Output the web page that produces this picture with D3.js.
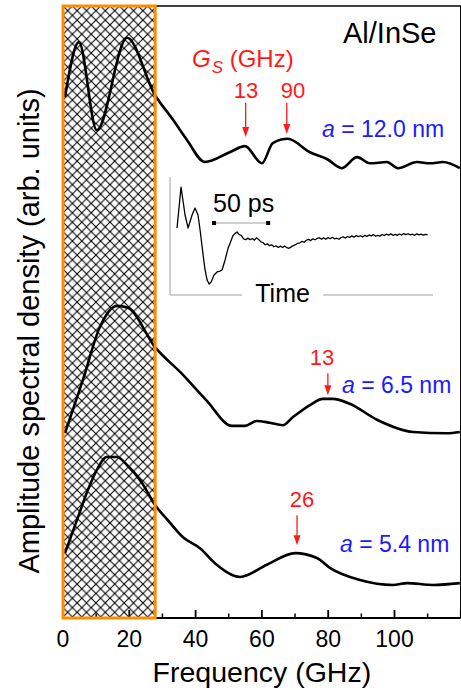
<!DOCTYPE html>
<html>
<head>
<meta charset="utf-8">
<script src="https://cdn.jsdelivr.net/npm/d3@7"></script>
<style>
  body { margin: 0; background: #ffffff; }
  svg text { font-family: "Liberation Sans", Arial, Helvetica, sans-serif; }
</style>
</head>
<body>
<div id="chart"></div>
<script>
// spectra: frequency (GHz) and stacked amplitude (arb. units)
const freq12 = [0.6, 4.8, 10.2, 19.3, 27.7, 33.2, 37.4, 42.8, 50.3, 54.9, 60.0, 63.3, 67.8, 74.5, 79.6, 84.1, 88.7, 92.6, 97.7, 101, 106.8, 110.7, 114.6, 119.7];
const amp12 = [85.1, 94.1, 79.7, 94.8, 85.5, 81.4, 78.1, 74.5, 76.1, 77.1, 74.3, 77.6, 78.3, 76.1, 75.0, 73.5, 75.3, 74.3, 74.5, 73.5, 74.5, 74.3, 74.5, 73.5];

const freq65 = [0.6, 6.0, 11.1, 16.3, 19.6, 27.7, 35.7, 43.2, 51.0, 54.9, 58.5, 62.4, 66.3, 69.3, 74.5, 78.4, 81.4, 86.5, 94.7, 105.6, 115.8, 119.7];
const amp65 = [30.2, 38.9, 47.5, 51.0, 50.7, 44.3, 40.0, 35.6, 31.4, 31.4, 32.2, 31.9, 31.5, 32.8, 34.8, 35.8, 35.8, 35.0, 32.4, 30.4, 30.2, 30.4];

const freq54 = [0.6, 4.2, 7.5, 10.2, 13.2, 16.3, 19.3, 23.8, 27.7, 31.6, 36.2, 41.3, 46.4, 53.4, 61.5, 70.0, 76.6, 80.5, 89.6, 99.5, 103.8, 111.6, 119.7];
const amp54 = [10.6, 16.0, 20.9, 24.2, 26.3, 26.3, 25.0, 22.1, 18.5, 16.0, 13.2, 11.4, 8.7, 6.7, 8.7, 10.6, 9.8, 8.2, 6.2, 5.4, 5.7, 5.4, 5.7];

const seriesNames = ["a = 12.0 nm", "a = 6.5 nm", "a = 5.4 nm"];

// inset time trace (ps, arb.)
const insetTime = [6.5, 10.2, 13.9, 16.7, 20.4, 23.1, 25.9, 27.8, 30.6, 32.4, 34.3, 36.1, 38.0, 40.7, 43.5, 46.3, 48.1, 50.9, 53.7, 55.6, 58.0,
    60, 62, 64, 66, 68, 70, 72, 74, 76, 78, 80, 82, 84, 86, 88, 90, 92, 94, 96, 98, 100, 102, 104, 106, 108, 110, 112, 114, 116, 118,
    120, 122, 124, 126, 128, 130, 132, 134, 136, 138, 140, 142, 144, 146, 148, 150, 152, 154, 156, 158, 160, 162, 164, 166, 168, 170,
    172, 174, 176, 178, 180, 182, 184, 186, 188, 190, 192, 194, 196, 198, 200, 202, 204, 206, 208, 210, 212, 214, 216, 218, 220, 222,
    224, 226, 228, 230, 232, 234, 236, 238];
const insetSignal = [56.8, 91.5, 67.8, 56.8, 67.8, 73.7, 67.8, 55.1, 33.9, 21.2, 12.7, 9.3, 11.0, 16.9, 19.5, 20.3, 21.2, 29.7, 39.8, 44.1, 50.0,
    52.0, 53.4, 51.2, 50.4, 47.6, 46.9, 48.2, 46.8, 47.9, 46.5, 48.6, 46.9, 45.1, 44.3, 42.6, 43.4, 41.8, 42.5, 40.9, 41.6, 40.3, 41.4, 40.2, 41.5, 40.1, 39.6, 40.8, 41.9, 42.6, 43.8,
    44.2, 45.5, 44.7, 46.4, 47.2, 46.1, 47.6, 46.8, 47.9, 48.5, 47.3, 48.4, 47.2, 48.6, 47.7, 48.9, 47.6, 48.1, 47.3, 48.7, 49.2, 48.3, 49.6, 48.8, 50.1, 49.0,
    50.3, 49.4, 50.2, 49.1, 50.5, 49.7, 50.9, 50.0, 51.2, 49.8, 50.6, 49.9, 51.3, 50.4, 51.6, 50.7, 51.8, 50.6, 51.4, 50.5, 51.7, 50.8, 52.0, 51.1, 51.9, 50.9,
    51.5, 50.6, 51.8, 51.0, 51.6, 50.7, 51.3, 50.9];

// shaded (hatched) low-frequency band, GHz
const bandRange = [0, 27.8];

// arrows: label, frequency, arrow tip / top, label baseline (arb. units)
const peakLabels = ["13", "90", "13", "26"];
const peakFreq = [55.1, 67.5, 79.9, 70.6];
const peakTip = [78.6, 79.1, 36.4, 11.9];
const peakTop = [84.2, 84.2, 40.0, 16.8];
const peakText = [85.0, 85.0, 41.3, 18.1];
const peakTextFreq = [55.2, 69.4, 78.1, 72.1];

const xTicks = [0, 20, 40, 60, 80, 100];

class SpectraView {
    constructor(container) {
        this.container = container;
        this.width = 461;
        this.height = 690;
        this.red = "#ff1a1a";
        this.blue = "#1a1aff";
        this.orange = "#ff8c00";
    }

    render() {
        const svg = d3.select("#" + this.container)
            .append("svg")
            .attr("width", this.width)
            .attr("height", this.height)

        const x = d3.scaleLinear().domain([0, 120]).range([63, 460.8]);
        const y = d3.scaleLinear().domain([0, 100]).range([618, 6]);
        this.x = x;
        this.y = y;

        //hatch pattern for the band
        const s = 9.4;
        const pattern = svg.append("defs")
            .append("pattern")
            .attr("id", "hatch")
            .attr("patternUnits", "userSpaceOnUse")
            .attr("x", 63)
            .attr("y", 6)
            .attr("width", s)
            .attr("height", s)
        pattern.append("rect")
            .attr("width", s)
            .attr("height", s)
            .style("fill", "#ffffff")
        pattern.append("path")
            .attr("d", `M0,0L${s},${s}M${s},0L0,${s}`)
            .style("stroke", "#000000")
            .style("stroke-width", 1.1)
            .style("fill", "none")

        svg.append("rect")
            .attr("x", x(bandRange[0]))
            .attr("y", y(100))
            .attr("width", x(bandRange[1]) - x(bandRange[0]))
            .attr("height", y(0) - y(100))
            .style("fill", "url(#hatch)")

        //frame: top and right
        svg.append("path")
            .attr("d", `M${x(bandRange[1])},${y(100)}H${x(120)}V${y(0)}`)
            .style("fill", "none")
            .style("stroke", "#000000")
            .style("stroke-width", 1.5)

        this.renderAxis(svg);
        this.renderCurves(svg);

        //band outline on top
        svg.append("rect")
            .attr("x", x(bandRange[0]))
            .attr("y", y(100))
            .attr("width", x(bandRange[1]) - x(bandRange[0]))
            .attr("height", y(0) - y(100))
            .style("fill", "none")
            .style("stroke", this.orange)
            .style("stroke-width", 3)

        this.renderInset(svg);
        this.renderLabels(svg);
    }

    renderAxis(svg) {
        const x = this.x, y = this.y;
        const axis = svg.append("g")
            .attr("transform", `translate(0,${y(0)})`)

        axis.append("line")
            .attr("x1", x(0))
            .attr("x2", x(120))
            .style("stroke", "#000000")
            .style("stroke-width", 2)

        axis.selectAll(".major")
            .data(d3.range(0, 121, 20))
            .join("line")
            .attr("class", "major")
            .attr("x1", d => x(d))
            .attr("x2", d => x(d))
            .attr("y1", 0)
            .attr("y2", -8)
            .style("stroke", "#000000")
            .style("stroke-width", 1.8)

        axis.selectAll(".minor")
            .data(d3.range(10, 120, 20))
            .join("line")
            .attr("class", "minor")
            .attr("x1", d => x(d))
            .attr("x2", d => x(d))
            .attr("y1", 0)
            .attr("y2", -4.5)
            .style("stroke", "#000000")
            .style("stroke-width", 1.5)

        axis.selectAll(".tick-label")
            .data(xTicks)
            .join("text")
            .attr("class", "tick-label")
            .attr("x", d => x(d))
            .attr("y", 29)
            .attr("text-anchor", "middle")
            .style("font-size", "23px")
            .style("fill", "#000000")
            .text(d => d)

        svg.append("text")
            .attr("x", (x(0) + x(120)) / 2)
            .attr("y", 682)
            .attr("text-anchor", "middle")
            .style("font-size", "28.5px")
            .text("Frequency (GHz)")

        svg.append("text")
            .attr("transform", `translate(39,${331}) rotate(-90)`)
            .attr("text-anchor", "middle")
            .style("font-size", "29px")
            .text("Amplitude spectral density (arb. units)")
    }

    renderCurves(svg) {
        const x = this.x, y = this.y;
        const line = d3.line()
            .x(d => x(d[0]))
            .y(d => y(d[1]))
            .curve(d3.curveMonotoneX)

        const curves = [
            d3.zip(freq12, amp12),
            d3.zip(freq65, amp65),
            d3.zip(freq54, amp54)
        ];

        svg.append("g")
            .selectAll("path")
            .data(curves)
            .join("path")
            .attr("d", line)
            .style("fill", "none")
            .style("stroke", "#000000")
            .style("stroke-width", 2.6)
            .style("stroke-linejoin", "round")
    }

    renderInset(svg) {
        // inset box: time trace
        const tx = d3.scaleLinear().domain([0, 243]).range([170, 433]);
        const ty = d3.scaleLinear().domain([0, 100]).range([295, 177]);
        const grey = "#a0a0a0";
        const inset = svg.append("g")

        inset.append("path")
            .attr("d", `M${tx(0)},${ty(100)}V${ty(0)}H${tx(66.5)}M${tx(141.5)},${ty(0)}H${tx(243)}`)
            .style("fill", "none")
            .style("stroke", grey)
            .style("stroke-width", 1)

        inset.append("text")
            .attr("x", tx(104))
            .attr("y", 302)
            .attr("text-anchor", "middle")
            .style("font-size", "25px")
            .text("Time")

        inset.append("path")
            .attr("d", d3.line().x(d => tx(d[0])).y(d => ty(d[1]))(d3.zip(insetTime, insetSignal)))
            .style("fill", "none")
            .style("stroke", "#000000")
            .style("stroke-width", 1.3)
            .style("stroke-linejoin", "round")

        //50 ps scale bar
        const barStart = 40.7, barLen = 50;
        inset.append("line")
            .attr("x1", tx(barStart))
            .attr("x2", tx(barStart + barLen))
            .attr("y1", 223)
            .attr("y2", 223)
            .style("stroke", grey)
            .style("stroke-width", 1)
        inset.selectAll(".bar-end")
            .data([barStart, barStart + barLen])
            .join("rect")
            .attr("class", "bar-end")
            .attr("x", d => tx(d) - 2)
            .attr("y", 221)
            .attr("width", 4)
            .attr("height", 4)
            .style("fill", "#000000")
        inset.append("text")
            .attr("x", tx(barStart) - 1)
            .attr("y", 212)
            .style("font-size", "25px")
            .text("50 ps")
    }

    renderLabels(svg) {
        const x = this.x, y = this.y;

        svg.append("text")
            .attr("x", 343)
            .attr("y", 43)
            .style("font-size", "29px")
            .text("Al/InSe")

        const gs = svg.append("text")
            .attr("x", 192)
            .attr("y", 67)
            .style("font-size", "24px")
            .style("fill", this.red)
        gs.append("tspan").style("font-style", "italic").text("G")
        gs.append("tspan").style("font-style", "italic").style("font-size", "17px").attr("dy", 6).attr("dx", 1).text("S")
        gs.append("tspan").attr("dy", -6).text(" (GHz)")

        //peak arrows
        peakLabels.forEach((label, i) => {
            const px = x(peakFreq[i]);
            const tip = y(peakTip[i]);
            svg.append("line")
                .attr("x1", px)
                .attr("x2", px)
                .attr("y1", y(peakTop[i]))
                .attr("y2", tip - 8)
                .style("stroke", this.red)
                .style("stroke-width", 1.3)
            svg.append("path")
                .attr("d", `M${px - 3.5},${tip - 10}L${px + 3.5},${tip - 10}L${px},${tip}Z`)
                .style("fill", this.red)
            svg.append("text")
                .attr("x", x(peakTextFreq[i]))
                .attr("y", y(peakText[i]))
                .attr("text-anchor", "middle")
                .style("font-size", "22px")
                .style("fill", this.red)
                .text(label)
        });

        //series labels
        const labelPos = [[322, 137], [342, 393], [340, 552]];
        seriesNames.forEach((name, i) => {
            const t = svg.append("text")
                .attr("x", labelPos[i][0])
                .attr("y", labelPos[i][1])
                .style("font-size", "23px")
                .style("fill", this.blue)
            t.append("tspan").style("font-style", "italic").text(name.slice(0, 1))
            t.append("tspan").text(name.slice(1))
        });
    }
}

const view = new SpectraView("chart");
view.render();
</script>
</body>
</html>
